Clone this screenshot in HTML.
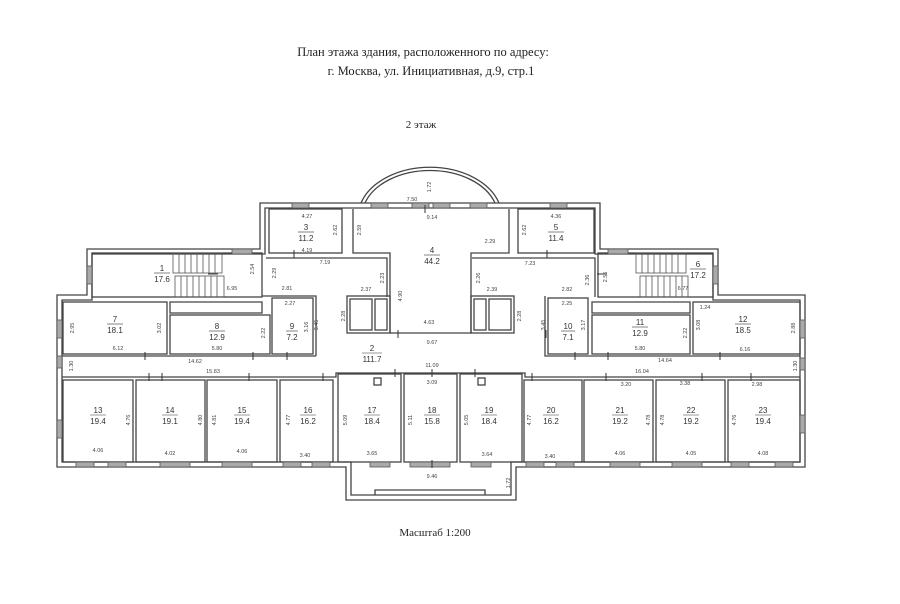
<!DOCTYPE html>
<html><head><meta charset="utf-8"><style>
html,body{margin:0;padding:0;background:#fff}
svg{display:block}
.t{font-family:"Liberation Serif","DejaVu Serif",serif;fill:#222}
.n{font-family:"Liberation Sans",sans-serif;font-size:8px;fill:#333;text-anchor:middle}
.d{font-family:"Liberation Sans",sans-serif;font-size:5.5px;fill:#444;text-anchor:middle}
.w{fill:none;stroke:#444;stroke-width:1.3}
.win{fill:#aaa;stroke:#555;stroke-width:0.8}
</style></head><body>
<svg width="900" height="604" viewBox="0 0 900 604" xmlns="http://www.w3.org/2000/svg">
<rect width="900" height="604" fill="#fff"/>
<text class="t" x="423" y="56" font-size="12.5" text-anchor="middle">План этажа здания, расположенного по адресу:</text>
<text class="t" x="431" y="75" font-size="12.5" text-anchor="middle">г. Москва, ул. Инициативная, д.9, стр.1</text>
<text class="t" x="421" y="128" font-size="11" text-anchor="middle">2 этаж</text>
<text class="t" x="435" y="536" font-size="11" text-anchor="middle">Масштаб 1:200</text>

<path class="w" d="M361 203 A72 50 0 0 1 499 203"/>
<path class="w" d="M365 203 A68 46 0 0 1 495 203"/>

<path class="w" d="M57 295 H87 V249 H260 V203 H600 V249 H718 V295 H805 V467 H516 V500 H346 V467 H57 Z"/>
<path class="w" d="M62 300 H92 V254 H265 V208 H595 V254 H713 V300 H800 V462 H511 V495 H351 V462 H62 Z"/>
<path class="w" d="M375 495 V490 H485 V495"/>

<rect class="w" x="269" y="209" width="73" height="44"/>
<rect class="w" x="518" y="209" width="76" height="44"/>
<path class="w" d="M353 209 V253 H390 V333 H471 V253 H509 V209"/>
<path class="w" d="M266 258 H387 V297 M472 258 H595 V297"/>
<rect class="w" x="92" y="253" width="170" height="44"/>
<rect class="w" x="598" y="253" width="115" height="44"/>
<g stroke="#555" stroke-width="0.8" fill="none">
<rect x="173" y="253" width="49" height="20"/><rect x="175" y="276" width="49" height="21"/>
<path d="M179 253v20M185 253v20M191 253v20M197 253v20M203 253v20M209 253v20M215 253v20M181 276v21M187 276v21M193 276v21M199 276v21M205 276v21M211 276v21M217 276v21"/>
<rect x="636" y="253" width="50" height="20"/><rect x="640" y="276" width="48" height="21"/>
<path d="M642 253v20M648 253v20M654 253v20M660 253v20M666 253v20M672 253v20M678 253v20M646 276v21M652 276v21M658 276v21M664 276v21M670 276v21M676 276v21M682 276v21"/>
</g>
<rect class="w" x="347" y="296" width="43" height="37"/><rect class="w" x="350" y="299" width="22" height="31"/><rect class="w" x="375" y="299" width="12" height="31"/>
<rect class="w" x="471" y="296" width="43" height="37"/><rect class="w" x="474" y="299" width="12" height="31"/><rect class="w" x="489" y="299" width="22" height="31"/>
<rect class="w" x="63" y="302" width="104" height="52"/>
<rect class="w" x="170" y="315" width="100" height="39"/>
<path class="w" d="M170 302 H262 V313 H170 Z"/>
<rect class="w" x="272" y="298" width="41" height="56"/>
<path class="w" d="M262 296 H316 V356 M62 356 H316"/>
<rect class="w" x="548" y="298" width="40" height="56"/>
<rect class="w" x="592" y="315" width="98" height="39"/>
<path class="w" d="M592 302 H690 V313 H592 Z"/>
<rect class="w" x="693" y="302" width="107" height="52"/>
<path class="w" d="M545 296 V356 H800"/>
<path class="w" d="M62 377 H336 V373 H525 V377 H800"/>
<rect class="w" x="63" y="380" width="70" height="82"/>
<rect class="w" x="136" y="380" width="69" height="82"/>
<rect class="w" x="207" y="380" width="70" height="82"/>
<rect class="w" x="280" y="380" width="53" height="82"/>
<rect class="w" x="338" y="374" width="63" height="88"/>
<rect class="w" x="404" y="374" width="53" height="88"/>
<rect class="w" x="460" y="374" width="62" height="88"/>
<rect class="w" x="524" y="380" width="58" height="82"/>
<rect class="w" x="584" y="380" width="69" height="82"/>
<rect class="w" x="656" y="380" width="69" height="82"/>
<rect class="w" x="728" y="380" width="72" height="82"/>
<rect class="w" x="374" y="378" width="7" height="7"/><rect class="w" x="478" y="378" width="7" height="7"/>
<g class="win">
<rect x="292" y="203" width="17" height="5"/><rect x="371" y="203" width="17" height="5"/><rect x="412" y="203" width="17" height="5"/><rect x="433" y="203" width="17" height="5"/><rect x="470" y="203" width="17" height="5"/><rect x="550" y="203" width="17" height="5"/>
<rect x="232" y="249" width="20" height="5"/><rect x="608" y="249" width="20" height="5"/>
<rect x="87" y="266" width="5" height="18"/><rect x="713" y="266" width="5" height="18"/>
<rect x="57" y="320" width="5" height="18"/><rect x="57" y="356" width="5" height="12"/>
<rect x="800" y="320" width="5" height="18"/><rect x="800" y="358" width="5" height="12"/>
<rect x="57" y="420" width="5" height="18"/><rect x="800" y="415" width="5" height="18"/>
<rect x="76" y="462" width="18" height="5"/><rect x="108" y="462" width="18" height="5"/><rect x="160" y="462" width="30" height="5"/><rect x="222" y="462" width="30" height="5"/><rect x="283" y="462" width="18" height="5"/><rect x="312" y="462" width="18" height="5"/><rect x="370" y="462" width="20" height="5"/><rect x="410" y="462" width="40" height="5"/><rect x="471" y="462" width="20" height="5"/><rect x="526" y="462" width="18" height="5"/><rect x="556" y="462" width="18" height="5"/><rect x="610" y="462" width="30" height="5"/><rect x="672" y="462" width="30" height="5"/><rect x="731" y="462" width="18" height="5"/><rect x="775" y="462" width="18" height="5"/>
</g>
<g stroke="#333" stroke-width="1">
<path d="M145 352v8M253 352v8M287 352v8M149 373v8M162 373v8M249 373v8M323 373v8M395 369v8M432 369v8M475 369v8M532 373v8M606 373v8M702 373v8M751 373v8M575 352v8M608 352v8M720 352v8M398 330v8M546 330v8M294 250v8M547 250v8M208 274h10M597 274h10M432 460v8M425 205v8"/>
</g>
<g class="n">
<text x="162" y="271">1</text><line x1="154" y1="273" x2="170" y2="273" stroke="#333" stroke-width=".6"/><text x="162" y="282">17.6</text>
<text x="306" y="230">3</text><line x1="298" y1="232" x2="314" y2="232" stroke="#333" stroke-width=".6"/><text x="306" y="241">11.2</text>
<text x="432" y="253">4</text><line x1="424" y1="255" x2="440" y2="255" stroke="#333" stroke-width=".6"/><text x="432" y="264">44.2</text>
<text x="556" y="230">5</text><line x1="548" y1="232" x2="564" y2="232" stroke="#333" stroke-width=".6"/><text x="556" y="241">11.4</text>
<text x="698" y="267">6</text><line x1="690" y1="269" x2="706" y2="269" stroke="#333" stroke-width=".6"/><text x="698" y="278">17.2</text>
<text x="115" y="322">7</text><line x1="107" y1="324" x2="123" y2="324" stroke="#333" stroke-width=".6"/><text x="115" y="333">18.1</text>
<text x="217" y="329">8</text><line x1="209" y1="331" x2="225" y2="331" stroke="#333" stroke-width=".6"/><text x="217" y="340">12.9</text>
<text x="292" y="329">9</text><line x1="286" y1="331" x2="298" y2="331" stroke="#333" stroke-width=".6"/><text x="292" y="340">7.2</text>
<text x="372" y="351">2</text><line x1="362" y1="353" x2="382" y2="353" stroke="#333" stroke-width=".6"/><text x="372" y="362">111.7</text>
<text x="568" y="329">10</text><line x1="561" y1="331" x2="575" y2="331" stroke="#333" stroke-width=".6"/><text x="568" y="340">7.1</text>
<text x="640" y="325">11</text><line x1="632" y1="327" x2="648" y2="327" stroke="#333" stroke-width=".6"/><text x="640" y="336">12.9</text>
<text x="743" y="322">12</text><line x1="735" y1="324" x2="751" y2="324" stroke="#333" stroke-width=".6"/><text x="743" y="333">18.5</text>
</g>
<g class="n">
<text x="98" y="413">13</text><text x="98" y="424">19.4</text>
<text x="170" y="413">14</text><text x="170" y="424">19.1</text>
<text x="242" y="413">15</text><text x="242" y="424">19.4</text>
<text x="308" y="413">16</text><text x="308" y="424">16.2</text>
<text x="372" y="413">17</text><text x="372" y="424">18.4</text>
<text x="432" y="413">18</text><text x="432" y="424">15.8</text>
<text x="489" y="413">19</text><text x="489" y="424">18.4</text>
<text x="551" y="413">20</text><text x="551" y="424">16.2</text>
<text x="620" y="413">21</text><text x="620" y="424">19.2</text>
<text x="691" y="413">22</text><text x="691" y="424">19.2</text>
<text x="763" y="413">23</text><text x="763" y="424">19.4</text>
</g>
<g stroke="#333" stroke-width=".6">
<path d="M90 415h16M162 415h16M234 415h16M300 415h16M364 415h16M424 415h16M481 415h16M543 415h16M612 415h16M683 415h16M755 415h16"/>
</g>
<g class="d">
<text x="307" y="218">4.27</text><text x="307" y="252">4.19</text><text x="325" y="264">7.19</text>
<text x="412" y="201">7.50</text><text x="432" y="219">9.14</text><text x="490" y="243">2.29</text>
<text x="556" y="218">4.36</text><text x="530" y="265">7.23</text>
<text x="232" y="290">6.95</text><text x="683" y="290">6.77</text>
<text x="287" y="290">2.81</text><text x="366" y="291">2.37</text><text x="492" y="291">2.39</text><text x="567" y="291">2.82</text>
<text x="290" y="305">2.27</text><text x="567" y="305">2.25</text><text x="705" y="309">1.24</text>
<text x="429" y="324">4.63</text><text x="432" y="344">9.67</text>
<text x="118" y="350">6.12</text><text x="217" y="350">5.80</text><text x="640" y="350">5.80</text><text x="745" y="351">6.16</text>
<text x="195" y="363">14.62</text><text x="665" y="362">14.64</text><text x="432" y="367">11.09</text>
<text x="213" y="373">15.83</text><text x="642" y="373">16.04</text>
<text x="432" y="384">3.09</text><text x="626" y="386">3.20</text><text x="685" y="385">3.38</text><text x="757" y="386">2.98</text>
<text x="98" y="452">4.06</text><text x="170" y="455">4.02</text><text x="242" y="453">4.06</text><text x="305" y="457">3.40</text><text x="372" y="455">3.65</text><text x="487" y="456">3.64</text><text x="550" y="458">3.40</text><text x="620" y="455">4.06</text><text x="691" y="455">4.05</text><text x="763" y="455">4.08</text>
<text x="432" y="478">9.46</text>
</g>
<g class="d">
<text transform="translate(337 230) rotate(-90)">2.62</text>
<text transform="translate(361 230) rotate(-90)">2.59</text>
<text transform="translate(526 230) rotate(-90)">2.62</text>
<text transform="translate(431 187) rotate(-90)">1.72</text>
<text transform="translate(254 269) rotate(-90)">2.54</text>
<text transform="translate(276 273) rotate(-90)">2.29</text>
<text transform="translate(384 278) rotate(-90)">2.23</text>
<text transform="translate(402 296) rotate(-90)">4.90</text>
<text transform="translate(480 278) rotate(-90)">2.26</text>
<text transform="translate(589 280) rotate(-90)">2.36</text>
<text transform="translate(607 277) rotate(-90)">2.55</text>
<text transform="translate(345 316) rotate(-90)">2.28</text>
<text transform="translate(521 316) rotate(-90)">2.28</text>
<text transform="translate(74 328) rotate(-90)">2.95</text>
<text transform="translate(161 328) rotate(-90)">3.02</text>
<text transform="translate(265 333) rotate(-90)">2.22</text>
<text transform="translate(308 327) rotate(-90)">3.16</text>
<text transform="translate(318 325) rotate(-90)">3.45</text>
<text transform="translate(545 325) rotate(-90)">3.45</text>
<text transform="translate(585 325) rotate(-90)">3.17</text>
<text transform="translate(687 333) rotate(-90)">2.22</text>
<text transform="translate(700 325) rotate(-90)">3.08</text>
<text transform="translate(795 328) rotate(-90)">2.88</text>
<text transform="translate(73 366) rotate(-90)">1.30</text>
<text transform="translate(797 366) rotate(-90)">1.30</text>
<text transform="translate(130 420) rotate(-90)">4.76</text>
<text transform="translate(202 420) rotate(-90)">4.80</text>
<text transform="translate(216 420) rotate(-90)">4.81</text>
<text transform="translate(290 420) rotate(-90)">4.77</text>
<text transform="translate(347 420) rotate(-90)">5.09</text>
<text transform="translate(412 420) rotate(-90)">5.11</text>
<text transform="translate(468 420) rotate(-90)">5.05</text>
<text transform="translate(531 420) rotate(-90)">4.77</text>
<text transform="translate(650 420) rotate(-90)">4.78</text>
<text transform="translate(664 420) rotate(-90)">4.78</text>
<text transform="translate(736 420) rotate(-90)">4.76</text>
<text transform="translate(510 483) rotate(-90)">1.72</text>
</g>
</svg>
</body></html>
